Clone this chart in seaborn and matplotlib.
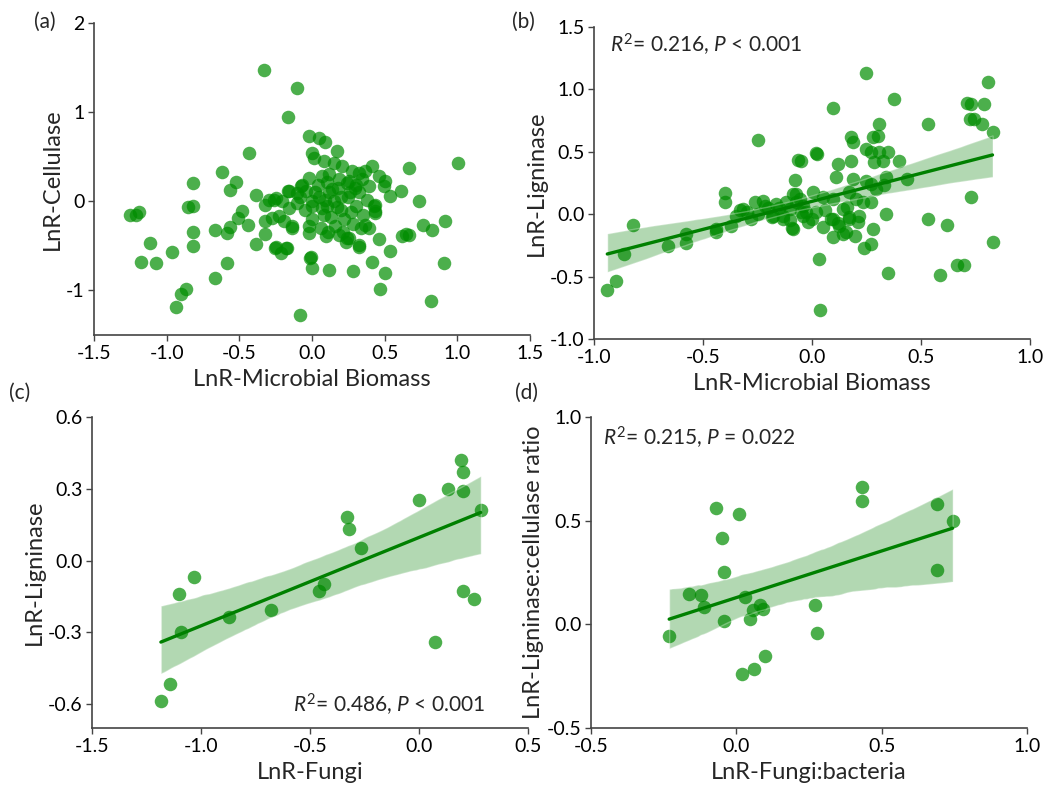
import numpy as np
import pandas as pd
import matplotlib
matplotlib.use("Agg")
import matplotlib.pyplot as plt
import seaborn as sns

# (a) microbial biomass vs cellulase
a_x = [-0.333, -0.105, -0.164, -0.02, 0.048, 0.089, 0.002, 0.014, -0.432, -0.621, -0.523, -0.562,
       -0.82, -0.386, -1.253, -1.19, -1.212, -0.851, -0.82, -1.112, -1.18, -1.071, -0.961, -0.82,
       -0.82, -0.664, -0.584, -0.562, -0.482, -0.511, -0.443, -0.386, -0.324, -0.324, -0.324, -0.26,
       -0.164, -0.253, -0.214, -0.171, -0.584, -0.664, -0.865, -0.9, -0.938, -0.084, -0.016, -0.002,
       -0.226, -0.135, -0.066,
       0.174, 0.082, 0.151, 0.208, 0.276, 0.322, 0.368, 0.413, 0.459, 0.505, 0.493, 0.539, 0.614,
       0.664, 1.002, 0.733, 0.425, 0.436, 0.664, 0.767, 0.824, 0.916, 0.459, 0.539, 0.322, 0.413,
       0.505, 0.466, 0.283, 0.116, -0.009, 0.911, 0.817, 0.242, 0.368,
       0.253, 0.345, 0.39, 0.299, -0.02, 0.071, 0.116, 0.185, -0.078, -0.1, -0.158, -0.249, -0.203,
       -0.158, -0.295, -0.272, -0.192, -0.135, -0.02, 0.094, 0.185, 0.253, 0.322, 0.231, 0.39,
       0.436, 0.436, 0.619, 0.65, -0.249, -0.18,
       0.0, 0.05, 0.1, 0.15, 0.2, 0.25, 0.3, -0.05, 0.0, 0.08, 0.12, 0.18, 0.22, 0.28, 0.35, 0.32,
       -0.08, 0.04, 0.1, 0.16, 0.06, -0.02, 0.24, 0.38, 0.13, 0.2, 0.27, -0.1, 0.02, 0.09, 0.17,
       0.3, 0.34, 0.11, -0.04, 0.21, 0.26, 0.14, 0.07, 0.0]
a_y = [1.477, 1.273, 0.941, 0.73, 0.708, 0.67, 0.546, 0.489, 0.542, 0.331, 0.218, 0.121,
       0.2, 0.068, -0.158, -0.124, -0.158, -0.068, -0.049, -0.463, -0.678, -0.697, -0.565, -0.35,
       -0.5, -0.324, -0.358, -0.294, -0.113, -0.188, -0.264, -0.475, -0.226, -0.369, -0.038, 0.019,
       0.113, -0.527, -0.584, -0.527, -0.697, -0.859, -0.987, -1.036, -1.19, -1.28, -0.633, -0.746,
       -0.169, -0.282, 0.188,
       0.565, 0.452, 0.433, 0.395, 0.339, 0.32, 0.339, 0.395, 0.282, 0.226, 0.169, 0.056, 0.113,
       0.376, 0.433, 0.0, -0.056, -0.132, -0.377, -0.264, -0.32, -0.226, -0.426, -0.557, -0.508, -0.678,
       -0.802, -0.987, -0.78, -0.772, -0.621, -0.697, -1.119, -0.414, -0.264,
       0.226, 0.245, 0.169, 0.15, 0.263, 0.282, 0.301, 0.245, 0.169, 0.094, 0.113, 0.038, 0.0,
       -0.075, 0.019, -0.188, -0.226, -0.301, -0.358, -0.395, -0.377, -0.414, -0.489, -0.452, -0.301,
       -0.113, -0.038, -0.395, -0.37, -0.508, -0.527,
       0.0, 0.05, -0.05, 0.0, -0.1, 0.05, -0.05, -0.1, -0.2, -0.15, 0.1, 0.15, -0.2, -0.25, -0.15, 0.1,
       0.05, 0.18, 0.22, -0.28, -0.3, -0.28, 0.2, 0.02, -0.18, 0.05, -0.12, -0.02, 0.1, 0.02, -0.06,
       0.18, -0.3, -0.35, 0.12, -0.34, 0.1, 0.14, -0.08, -0.05]

# (b) microbial biomass vs ligninase
b_x = [-0.939, -0.901, -0.861, -0.82, -0.66, -0.58, -0.58, -0.442, -0.44, -0.37, -0.4, -0.4,
       -0.347, -0.317, -0.263, -0.225, -0.217, -0.248, -0.182, -0.164, -0.134, -0.092, -0.088, -0.08,
       -0.062, -0.042, -0.103, -0.072,
       0.248, 0.378, 0.098, 0.309, 0.53, 0.808, 0.71, 0.729, 0.789, 0.724, 0.744, 0.779, 0.828,
       0.179, 0.187, 0.278, 0.301, 0.248, 0.271, 0.309, 0.347, 0.324, 0.286, 0.4, 0.019, -0.049,
       0.179, 0.118, 0.111, 0.187, 0.339, 0.438, 0.248, 0.271, 0.332, 0.294, 0.729, 0.339, 0.53,
       0.619, 0.828, 0.667, 0.698, 0.588, 0.347, 0.03, 0.038, 0.278, 0.271, 0.24, 0.095, 0.141,
       0.195, 0.21, 0.172, 0.141, 0.088, 0.019, -0.027, -0.042, 0.233, 0.271, 0.172, 0.095, 0.004,
       -0.057, 0.022, -0.072, 0.05, -0.088, -0.179, -0.134, 0.095, 0.126, 0.156, 0.172, 0.217, 0.202,
       -0.332, -0.3, -0.25, -0.2, -0.28, -0.15, -0.1, -0.05, -0.12, -0.02, 0.06, 0.12, 0.0, 0.16, 0.05]
b_y = [-0.605, -0.536, -0.315, -0.085, -0.256, -0.157, -0.229, -0.117, -0.14, -0.096, 0.168, 0.096,
       -0.016, 0.043, 0.096, 0.109, 0.069, 0.592, -0.024, 0.083, -0.011, -0.112, 0.163, 0.275,
       0.435, -0.011, 0.043, 0.096,
       1.13, 0.923, 0.851, 0.723, 0.723, 1.061, 0.891, 0.883, 0.883, 0.763, 0.763, 0.723, 0.661,
       0.616, 0.576, 0.616, 0.629, 0.523, 0.496, 0.496, 0.496, 0.43, 0.416, 0.43, 0.488, 0.43,
       0.43, 0.403, 0.296, 0.283, 0.296, 0.283, 0.27, 0.243, 0.23, 0.203, 0.136, 0.003, -0.037,
       -0.085, -0.224, -0.411, -0.411, -0.485, -0.472, -0.357, -0.765, -0.117, -0.237, -0.272, -0.184, -0.157,
       -0.171, -0.064, -0.024, 0.043, -0.037, 0.016, 0.016, 0.069, 0.096, 0.096, 0.176, 0.123, 0.176,
       0.123, 0.483, 0.163, 0.136, -0.117, -0.011, -0.037, -0.037, -0.091, -0.144, -0.037, -0.011, 0.123,
       0.03, 0.02, 0.0, 0.05, -0.04, 0.05, -0.05, 0.02, 0.1, -0.06, 0.03, -0.07, -0.04, 0.06, -0.1]

# (c) fungi vs ligninase
c_x = [-1.184, -1.142, -1.099, -1.03, -1.091, -0.87, -0.68, -0.46, -0.438, -0.328, -0.319,
       -0.267, 0.001, 0.073, 0.132, 0.191, 0.201, 0.201, 0.201, 0.253, 0.283]
c_y = [-0.589, -0.517, -0.138, -0.068, -0.297, -0.238, -0.207, -0.128, -0.096, 0.182, 0.132,
       0.051, 0.251, -0.339, 0.3, 0.421, 0.37, 0.289, -0.129, -0.16, 0.213]

# (d) fungi:bacteria vs ligninase:cellulase ratio
d_x = [-0.231, -0.163, -0.122, -0.110, -0.071, 0.010, -0.049, -0.041, -0.041, 0.029, 0.048, 0.057,
       0.080, 0.092, 0.020, 0.060, 0.100, 0.270, 0.279, 0.431, 0.431, 0.692, 0.692, 0.744]
d_y = [-0.058, 0.148, 0.143, 0.082, 0.559, 0.533, 0.417, 0.251, 0.018, 0.130, 0.027, 0.071,
       0.095, 0.076, -0.238, -0.214, -0.155, 0.095, -0.042, 0.662, 0.597, 0.578, 0.264, 0.498]

sns.set_style("ticks")
plt.rcParams['font.family'] = ['Lato', 'DejaVu Sans']
plt.rcParams['mathtext.fontset'] = 'custom'
plt.rcParams['mathtext.rm'] = 'Lato'
plt.rcParams['mathtext.it'] = 'Lato:italic'

pt_color = (0, 0.553, 0)
ln_color = (0, 0.5, 0)
W, H = 1053, 796


def box(l, t, r, b):
    return [l / W, 1 - b / H, (r - l) / W, (b - t) / H]


fig = plt.figure(figsize=(W / 100, H / 100), dpi=100)
ax_a = fig.add_axes(box(94, 23, 530, 335))
ax_b = fig.add_axes(box(594, 27, 1030, 339))
ax_c = fig.add_axes(box(92, 417, 528, 728))
ax_d = fig.add_axes(box(591, 417, 1027, 728))

sc_kws = dict(s=95, alpha=0.7, linewidths=0, color=pt_color)

sns.scatterplot(x=a_x, y=a_y, ax=ax_a, **sc_kws)

for ax, xs, ys in [(ax_b, b_x, b_y), (ax_c, c_x, c_y), (ax_d, d_x, d_y)]:
    df = pd.DataFrame({"x": xs, "y": ys})
    sns.regplot(data=df, x="x", y="y", ax=ax, ci=95, seed=1, color=ln_color,
                scatter_kws=dict(s=95, alpha=0.7, linewidths=0, color=pt_color),
                line_kws=dict(lw=2.4, color=ln_color))
    for coll in ax.collections[1:]:
        coll.set_alpha(0.3)

ax_a.set(xlim=(-1.5, 1.5), ylim=(-1.5, 2), xticks=[-1.5, -1.0, -0.5, 0.0, 0.5, 1.0, 1.5],
         yticks=[-1, 0, 1, 2])
ax_a.set_xticklabels(["-1.5", "-1.0", "-0.5", "0.0", "0.5", "1.0", "1.5"])
ax_a.set_yticklabels(["-1", "0", "1", "2"])
ax_a.set_xlabel("LnR-Microbial Biomass")
ax_a.set_ylabel("LnR-Cellulase")

ax_b.set(xlim=(-1.0, 1.0), ylim=(-1.0, 1.5), xticks=[-1.0, -0.5, 0.0, 0.5, 1.0],
         yticks=[-1.0, -0.5, 0.0, 0.5, 1.0, 1.5])
ax_b.set_xticklabels(["-1.0", "-0.5", "0.0", "0.5", "1.0"])
ax_b.set_yticklabels(["-1.0", "-0.5", "0.0", "0.5", "1.0", "1.5"])
ax_b.set_xlabel("LnR-Microbial Biomass")
ax_b.set_ylabel("LnR-Ligninase")

ax_c.set(xlim=(-1.5, 0.5), ylim=(-0.7, 0.6), xticks=[-1.5, -1.0, -0.5, 0.0, 0.5],
         yticks=[-0.6, -0.3, 0.0, 0.3, 0.6])
ax_c.set_xticklabels(["-1.5", "-1.0", "-0.5", "0.0", "0.5"])
ax_c.set_yticklabels(["-0.6", "-0.3", "0.0", "0.3", "0.6"])
ax_c.set_xlabel("LnR-Fungi")
ax_c.set_ylabel("LnR-Ligninase")

ax_d.set(xlim=(-0.5, 1.0), ylim=(-0.5, 1.0), xticks=[-0.5, 0.0, 0.5, 1.0],
         yticks=[-0.5, 0.0, 0.5, 1.0])
ax_d.set_xticklabels(["-0.5", "0.0", "0.5", "1.0"])
ax_d.set_yticklabels(["-0.5", "0.0", "0.5", "1.0"])
ax_d.set_xlabel("LnR-Fungi:bacteria")
ax_d.set_ylabel("LnR-Ligninase:cellulase ratio")

for ax in [ax_a, ax_b, ax_c, ax_d]:
    sns.despine(ax=ax)
    for s in ["left", "bottom"]:
        ax.spines[s].set_color("#444444")
        ax.spines[s].set_linewidth(1.2)
    ax.tick_params(direction="out", length=4, width=1, color="#444444", labelsize=14,
                   labelcolor="black", pad=3)
    ax.xaxis.label.set_size(17)
    ax.yaxis.label.set_size(17)
    ax.xaxis.labelpad = 5
    ax.yaxis.labelpad = 2

ax_b.text(0.037, 0.942, r"$R^2$= 0.216, $P$ < 0.001", transform=ax_b.transAxes,
          fontsize=15, ha="left", va="center")
ax_c.text(0.901, 0.074, r"$R^2$= 0.486, $P$ < 0.001", transform=ax_c.transAxes,
          fontsize=15, ha="right", va="center")
ax_d.text(0.028, 0.932, r"$R^2$= 0.215, $P$ = 0.022", transform=ax_d.transAxes,
          fontsize=15, ha="left", va="center")

fig.text(34 / W, 1 - 22 / H, "(a)", fontsize=15, ha="left", va="center")
fig.text(512 / W, 1 - 22 / H, "(b)", fontsize=15, ha="left", va="center")
fig.text(9 / W, 1 - 393 / H, "(c)", fontsize=15, ha="left", va="center")
fig.text(515 / W, 1 - 393 / H, "(d)", fontsize=15, ha="left", va="center")

fig.savefig("out.png", dpi=100)
